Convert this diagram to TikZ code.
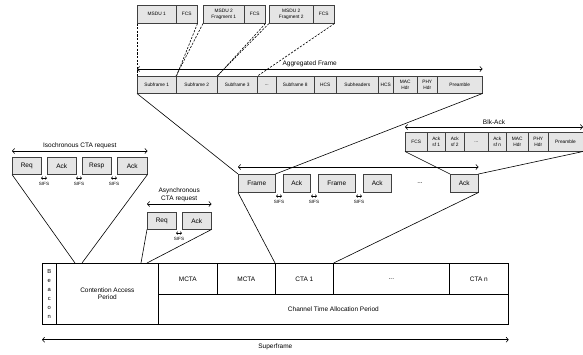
\documentclass[tikz,border=0pt]{standalone}
\usepackage{fontspec}
\setmainfont{Liberation Sans}
\usetikzlibrary{arrows.meta,shadows}
\begin{document}
\tikzset{
  gbox/.style={draw=black!75, fill=black!10, line width=0.5pt, inner sep=0pt, anchor=north west, align=center,
    general shadow={fill=black!60, shadow xshift=0.6pt, shadow yshift=-0.6pt}},
  wbox/.style={draw=black, line width=0.7pt, inner sep=0pt, anchor=north west, align=center},
  big/.style={font=\fontsize{6.5}{7.5}\selectfont},
  small/.style={font=\fontsize{4.8}{5.6}\selectfont},
  tiny/.style={font=\fontsize{4.6}{5}\selectfont, inner sep=0pt},
  bcnfont/.style={font=\fontsize{5.8}{9}\selectfont},
  span/.style={{Straight Barb[length=2.2pt,width=5pt]}-{Straight Barb[length=2.2pt,width=5pt]}, line width=0.6pt},
  sifsarr/.style={{Straight Barb[length=1.3pt,width=2.6pt]}-{Straight Barb[length=1.3pt,width=2.6pt]}, line width=0.6pt},
  conn/.style={line width=0.6pt},
  dconn/.style={dash pattern=on 2.2pt off 1.4pt, line width=0.6pt},
}
\newcommand{\fbx}[7]{\node[#1,minimum width=#5pt,minimum height=#6pt] (#2) at (#3,#4) {#7};}
\newcommand{\sifslbl}[3]{\draw[sifsarr] (#2-3,#3) -- (#2+3,#3); \node[tiny] (#1) at (#2,#3+6) {SIFS};}
\begin{tikzpicture}[x=1pt,y=-1pt]
\useasboundingbox (0,0) rectangle (583,354);

% ---- MSDU row
\fbx{gbox,small}{m1}{137}{5}{39}{18}{MSDU 1}
\fbx{gbox,small}{f1}{176}{5}{21}{18}{FCS}
\fbx{gbox,small}{m2}{203}{5}{41}{18}{MSDU 2\\Fragment 1}
\fbx{gbox,small}{f2}{244}{5}{21}{18}{FCS}
\fbx{gbox,small}{m3}{269}{5}{44}{18}{MSDU 2\\Fragment 2}
\fbx{gbox,small}{f3}{313}{5}{21}{18}{FCS}

% ---- Aggregated frame row
\fbx{gbox,small}{s1}{137}{76}{39}{17}{Subframe 1}
\fbx{gbox,small}{s2}{176}{76}{41}{17}{Subframe 2}
\fbx{gbox,small}{s3}{217}{76}{40}{17}{Subframe 3}
\fbx{gbox,small}{sd}{257}{76}{19}{17}{...}
\fbx{gbox,small}{s8}{276}{76}{38}{17}{Subframe 8}
\fbx{gbox,small}{h1}{314}{76}{22}{17}{HCS}
\fbx{gbox,small}{sh}{336}{76}{42}{17}{Subheaders}
\fbx{gbox,small}{h2}{378}{76}{15}{17}{HCS}
\fbx{gbox,small}{mac}{393}{76}{24}{17}{MAC\\Hdr}
\fbx{gbox,small}{phy}{417}{76}{20}{17}{PHY\\Hdr}
\fbx{gbox,small}{pre}{437}{76}{45}{17}{Preamble}
\draw[span] ([yshift=7pt]s1.north west) -- node[big, above=1.5pt, inner sep=0pt] (aggl) {Aggregated Frame} ([yshift=7pt]pre.north east);

\draw[dconn] (m1.south west) -- (s1.north west);
\draw[dconn] (f1.south east) -- (s1.north east);
\draw[dconn] (m2.south west) -- (s2.north west);
\draw[dconn] (f2.south east) -- (s2.north east);
\draw[dconn] (m3.south west) -- (s3.north west);
\draw[dconn] (f3.south east) -- (s3.north east);

% ---- Blk-Ack row
\fbx{gbox,small}{bf}{405}{132}{22}{19}{FCS}
\fbx{gbox,small}{b1}{427}{132}{18}{19}{Ack\\sf 1}
\fbx{gbox,small}{b2}{445}{132}{19}{19}{Ack\\sf 2}
\fbx{gbox,small}{bd}{464}{132}{24}{19}{...}
\fbx{gbox,small}{bn}{488}{132}{18}{19}{Ack\\sf n}
\fbx{gbox,small}{bm}{506}{132}{22}{19}{MAC\\Hdr}
\fbx{gbox,small}{bp}{528}{132}{20}{19}{PHY\\Hdr}
\fbx{gbox,small}{bpre}{548}{132}{34.5}{19}{Preamble}
\draw[span] ([yshift=5pt]bf.north west) -- node[big, above=2pt, inner sep=0pt] (blkl) {Blk-Ack} ([yshift=5pt]bpre.north east);

% ---- Frames row
\fbx{gbox,big}{fr1}{238}{174}{37}{18}{Frame}
\fbx{gbox,big}{ak1}{283}{174}{27}{18}{Ack}
\fbx{gbox,big}{fr2}{318}{174}{37}{18}{Frame}
\fbx{gbox,big}{ak2}{363}{174}{28}{18}{Ack}
\node[big] (frd) at (420,183) {...};
\fbx{gbox,big}{ak3}{450}{174}{28}{18}{Ack}
\draw[span] ([yshift=7pt]fr1.north west) -- ([yshift=7pt]ak3.north east);
\sifslbl{sf1}{279}{196}
\sifslbl{sf2}{314}{196}
\sifslbl{sf3}{359}{196}

\draw[conn] (s1.south west) -- (fr1.north west);
\draw[conn] (pre.south east) -- (fr1.north east);
\draw[conn] (ak3.north west) -- (bf.south west);
\draw[conn] (ak3.north east) -- (bpre.south east);

% ---- Isochronous
\fbx{gbox,big}{iq}{12}{157}{29}{17}{Req}
\fbx{gbox,big}{ia1}{47}{157}{29}{17}{Ack}
\fbx{gbox,big}{ir}{82}{157}{29}{17}{Resp}
\fbx{gbox,big}{ia2}{117}{157}{30}{17}{Ack}
\draw[span] ([yshift=6pt]iq.north west) -- node[big, above=2pt, inner sep=0pt] (isol) {Isochronous CTA request} ([yshift=6pt]ia2.north east);
\sifslbl{si1}{44}{178}
\sifslbl{si2}{79}{178}
\sifslbl{si3}{114}{178}

% ---- Asynchronous
\fbx{gbox,big}{aq}{147}{212}{29}{17}{Req}
\fbx{gbox,big}{aa}{182}{212}{29}{17}{Ack}
\draw[span] ([yshift=8pt]aq.north west) -- node[big, above=2pt, inner sep=0pt, align=center] (asyl) {Asynchronous\\CTA request} ([yshift=8pt]aa.north east);
\sifslbl{sa1}{179}{233}

% ---- Superframe
\fbx{wbox,bcnfont}{bcn}{42}{263}{14}{61}{B\\e\\a\\c\\o\\n}
\fbx{wbox,big}{cap}{56}{263}{102}{61}{Contention Access\\Period}
\fbx{wbox,big}{mc1}{158}{263}{59}{31}{MCTA}
\fbx{wbox,big}{mc2}{217}{263}{58}{31}{MCTA}
\fbx{wbox,big}{cta1}{275}{263}{58}{31}{CTA 1}
\fbx{wbox,big}{ctad}{333}{263}{116}{31}{...}
\fbx{wbox,big}{ctan}{449}{263}{59}{31}{CTA n}
\fbx{wbox,big}{ctap}{158}{294}{350}{30}{Channel Time Allocation Period}
\draw[span] ([yshift=-15pt]bcn.south west) -- node[big, below=4pt, inner sep=0pt] (supl) {Superframe} ([yshift=-15pt]ctan.south east |- ctap.south);

\coordinate (ci1) at (75,263);
\coordinate (ci2) at (82,263);
\coordinate (ca1) at (141,263);
\coordinate (ca2) at (147,263);
\draw[conn] (iq.south west) -- (ci1);
\draw[conn] (ia2.south east) -- (ci2);
\draw[conn] (aq.south west) -- (ca1);
\draw[conn] (aa.south east) -- (ca2);
\draw[conn] (fr1.south west) -- (cta1.north west);
\draw[conn] (ak3.south east) -- (cta1.north east);
\end{tikzpicture}
\end{document}
